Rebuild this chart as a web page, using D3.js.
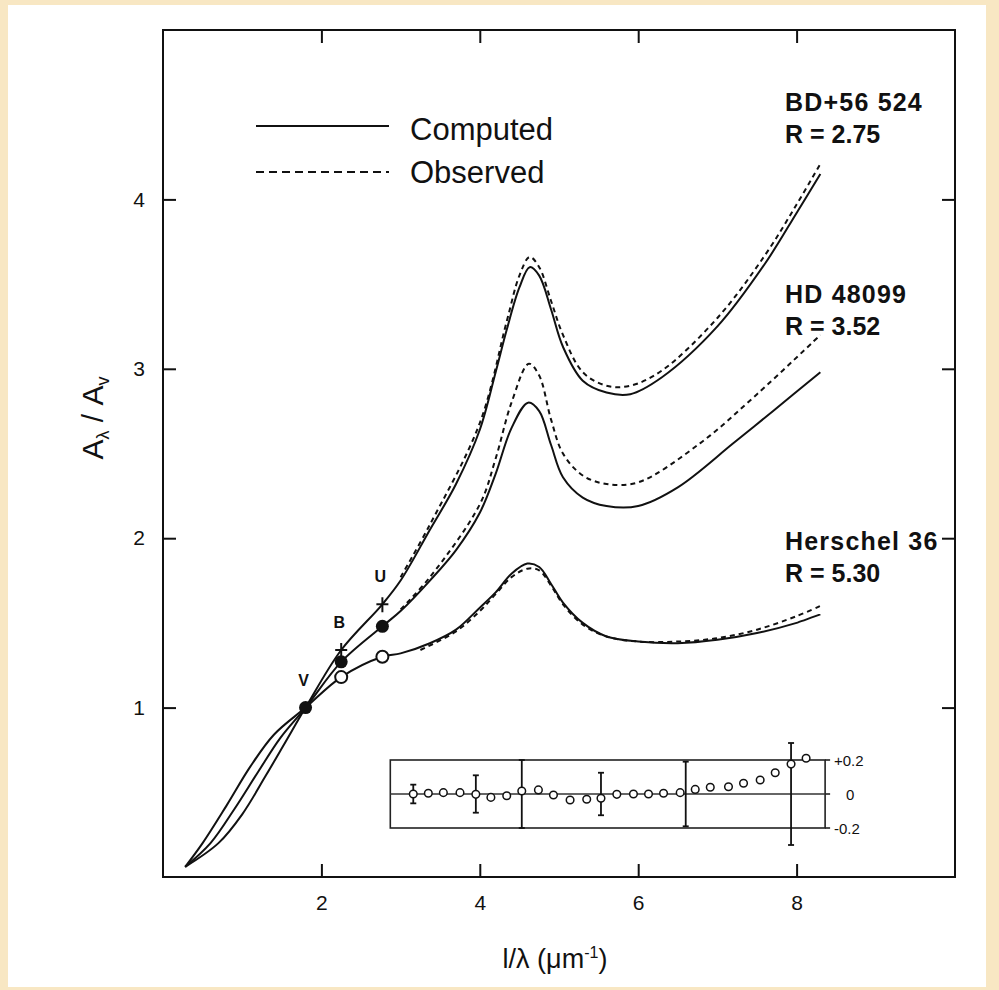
<!DOCTYPE html>
<html>
<head>
<meta charset="utf-8">
<script src="https://cdn.jsdelivr.net/npm/d3@7"></script>
<style>
body { margin: 0; background: #f8e7c3; }
svg text { font-family: "Liberation Sans", Arial, sans-serif; fill: #111; }
</style>
</head>
<body>
<svg id="chart" width="999" height="990"></svg>
<script>
// extinction curves A(lambda)/A(V) vs 1/lambda

// BD+56 524, R = 2.75
var bdComputed = [[0.28,0.06],[0.7,0.20],[1.0,0.37],[1.3,0.60],[1.55,0.80],[1.80,1.0],[2.25,1.34],[2.77,1.61],[3.0,1.75],[3.37,2.05],[3.7,2.32],[4.0,2.64],[4.2,2.98],[4.34,3.23],[4.5,3.48],[4.63,3.60],[4.75,3.55],[4.9,3.35],[5.05,3.13],[5.3,2.93],[5.6,2.86],[5.9,2.85],[6.3,2.95],[7.0,3.25],[7.6,3.62],[8.0,3.92],[8.3,4.15]]
var bdObserved = [[3.0,1.77],[3.37,2.08],[4.0,2.68],[4.34,3.28],[4.5,3.55],[4.63,3.66],[4.75,3.60],[4.9,3.40],[5.05,3.20],[5.3,2.98],[5.6,2.90],[5.9,2.90],[6.3,2.99],[7.0,3.30],[7.6,3.67],[8.0,3.97],[8.3,4.21]]

// HD 48099, R = 3.52
var hdComputed = [[0.28,0.06],[0.6,0.20],[0.9,0.40],[1.2,0.62],[1.48,0.82],[1.80,1.0],[2.25,1.27],[2.77,1.48],[3.0,1.57],[3.37,1.75],[3.7,1.93],[4.0,2.15],[4.2,2.38],[4.4,2.65],[4.61,2.80],[4.75,2.75],[4.9,2.55],[5.05,2.36],[5.3,2.24],[5.6,2.19],[6.0,2.19],[6.5,2.30],[7.2,2.56],[7.7,2.75],[8.3,2.98]]
var hdObserved = [[3.0,1.58],[3.37,1.77],[4.0,2.20],[4.2,2.47],[4.4,2.80],[4.62,3.03],[4.75,2.96],[4.9,2.70],[5.05,2.50],[5.3,2.37],[5.6,2.32],[6.0,2.33],[6.78,2.56],[7.5,2.85],[8.3,3.20]]

// Herschel 36, R = 5.30
var herComputed = [[0.28,0.06],[0.5,0.20],[0.8,0.42],[1.1,0.65],[1.4,0.84],[1.80,1.0],[2.25,1.18],[2.77,1.30],[3.0,1.32],[3.37,1.38],[3.7,1.46],[4.0,1.59],[4.2,1.68],[4.4,1.79],[4.6,1.85],[4.75,1.83],[4.9,1.73],[5.05,1.62],[5.3,1.50],[5.6,1.42],[6.0,1.39],[6.5,1.38],[7.0,1.40],[7.5,1.44],[8.0,1.50],[8.3,1.55]]
var herObserved = [[3.25,1.34],[3.7,1.45],[4.0,1.57],[4.2,1.67],[4.4,1.77],[4.6,1.82],[4.75,1.81],[4.9,1.72],[5.05,1.61],[5.3,1.49],[5.6,1.42],[6.0,1.39],[6.5,1.39],[7.0,1.41],[7.5,1.46],[8.0,1.54],[8.3,1.60]]

// photometric points V, B, U
var bandNames = ['V', 'B', 'U']
var bandX = [1.80, 2.25, 2.77]
var bdBand = [1.0, 1.34, 1.61]
var hdBand = [1.0, 1.27, 1.48]
var herBand = [1.0, 1.18, 1.30]

var starNames = ['BD+56 524', 'HD 48099', 'Herschel 36']
var starR = ['R = 2.75', 'R = 3.52', 'R = 5.30']

// inset: residuals
var residX = [3.16,3.35,3.54,3.75,3.95,4.14,4.34,4.53,4.74,4.93,5.14,5.35,5.53,5.73,5.94,6.13,6.32,6.53,6.72,6.91,7.14,7.33,7.54,7.73,7.93,8.12]
var residY = [0.0,0.004,0.008,0.008,-0.002,-0.02,-0.01,0.018,0.024,-0.006,-0.035,-0.031,-0.025,-0.002,0.0,0.0,0.004,0.008,0.027,0.04,0.043,0.063,0.082,0.125,0.176,0.21]
var errX = [3.16, 3.95, 4.53, 5.53, 6.6, 7.93]
var errHalf = [0.055, 0.11, 0.2, 0.125, 0.19, 0.30]
var insetTicks = [0.2, 0, -0.2]
var insetTickLabels = ['+0.2', '0', '-0.2']

var xTicks = [2, 4, 6, 8]
var yTicks = [1, 2, 3, 4]

var svg = d3.select('#chart')

// paper
svg.append('rect').attr('x', 8).attr('y', 5).attr('width', 978).attr('height', 982).attr('fill', '#fff')

var x = d3.scaleLinear().domain([0, 10]).range([163, 955])
var y = d3.scaleLinear().domain([0, 5]).range([877, 30])

var line = d3.line()
	.x(function(d) { return x(d[0]) })
	.y(function(d) { return y(d[1]) })
	.curve(d3.curveCatmullRom.alpha(0.5))

// axes, ticks pointing inward
function styleAxis(g, size) {
	g.select('.domain').remove()
	g.selectAll('line').attr('stroke', '#111').attr('stroke-width', 2)
	g.selectAll('text').style('font-size', size + 'px')
}
var fmt = d3.format('d')
svg.append('g').attr('transform', 'translate(0,' + y(0) + ')')
	.call(d3.axisBottom(x).tickValues(xTicks).tickFormat(fmt).tickSizeInner(-13).tickSizeOuter(0).tickPadding(18))
	.call(styleAxis, 21)
svg.append('g').attr('transform', 'translate(0,' + y(5) + ')')
	.call(d3.axisTop(x).tickValues(xTicks).tickSizeInner(-13).tickSizeOuter(0).tickFormat(''))
	.call(styleAxis, 21)
svg.append('g').attr('transform', 'translate(' + x(0) + ',0)')
	.call(d3.axisLeft(y).tickValues(yTicks).tickFormat(fmt).tickSizeInner(-13).tickSizeOuter(0).tickPadding(18))
	.call(styleAxis, 21)
svg.append('g').attr('transform', 'translate(' + x(10) + ',0)')
	.call(d3.axisRight(y).tickValues(yTicks).tickSizeInner(-13).tickSizeOuter(0).tickFormat(''))
	.call(styleAxis, 21)

svg.append('rect')
	.attr('x', x(0)).attr('y', y(5))
	.attr('width', x(10) - x(0)).attr('height', y(0) - y(5))
	.attr('fill', 'none').attr('stroke', '#111').attr('stroke-width', 2)

// axis titles
svg.append('text')
	.attr('x', 555).attr('y', 968)
	.attr('text-anchor', 'middle')
	.style('font-size', '27px')
	.html('l/λ (μm<tspan dy="-10" style="font-size:16px">-1</tspan><tspan dy="10">)</tspan>')

svg.append('text')
	.attr('transform', 'translate(103,418) rotate(-90)')
	.attr('text-anchor', 'middle')
	.style('font-size', '30px')
	.html('A<tspan dy="6" style="font-size:18px">λ</tspan><tspan dy="-6"> / A</tspan><tspan dy="6" style="font-size:18px">v</tspan>')

// curves
var curves = [
	{data: bdComputed, dash: null},
	{data: bdObserved, dash: '5,4'},
	{data: hdComputed, dash: null},
	{data: hdObserved, dash: '5,4'},
	{data: herComputed, dash: null},
	{data: herObserved, dash: '5,4'}
]
svg.append('g').selectAll('path')
	.data(curves)
	.enter().append('path')
		.attr('d', function(d) { return line(d.data) })
		.attr('fill', 'none')
		.attr('stroke', '#111')
		.attr('stroke-width', 2)
		.attr('stroke-dasharray', function(d) { return d.dash })

// star labels
var labelTop = [4.52, 3.39, 1.93]
starNames.forEach(function(name, i) {
	svg.append('text')
		.attr('x', 785).attr('y', y(labelTop[i]))
		.style('font-size', '25px').style('font-weight', 'bold').style('letter-spacing', '1.2px')
		.text(name)
	svg.append('text')
		.attr('x', 785).attr('y', y(labelTop[i]) + 32)
		.style('font-size', '25px').style('font-weight', 'bold')
		.text(starR[i])
})

// V B U points
var marks = svg.append('g')
bandX.forEach(function(bx, i) {
	if (i == 0) {
		marks.append('circle').attr('cx', x(bx)).attr('cy', y(bdBand[i])).attr('r', 6.5).attr('fill', '#111')
	} else {
		// BD+56 524: cross
		marks.append('line').attr('x1', x(bx)).attr('x2', x(bx))
			.attr('y1', y(bdBand[i]) - 7).attr('y2', y(bdBand[i]) + 8)
			.attr('stroke', '#111').attr('stroke-width', 2)
		marks.append('line').attr('x1', x(bx) - 6).attr('x2', x(bx) + 6)
			.attr('y1', y(bdBand[i])).attr('y2', y(bdBand[i]))
			.attr('stroke', '#111').attr('stroke-width', 2)
		// HD 48099: filled
		marks.append('circle').attr('cx', x(bx)).attr('cy', y(hdBand[i])).attr('r', 6.5).attr('fill', '#111')
		// Herschel 36: open
		marks.append('circle').attr('cx', x(bx)).attr('cy', y(herBand[i])).attr('r', 6)
			.attr('fill', '#fff').attr('stroke', '#111').attr('stroke-width', 2)
	}
	marks.append('text')
		.attr('x', x(bx) - 2).attr('y', y(bdBand[i]) - 22)
		.attr('text-anchor', 'middle')
		.style('font-size', '16px').style('font-weight', 'bold')
		.text(bandNames[i])
})

// legend
var legend = svg.append('g')
legend.append('line').attr('x1', 256).attr('x2', 389).attr('y1', 126).attr('y2', 126)
	.attr('stroke', '#111').attr('stroke-width', 2)
legend.append('line').attr('x1', 256).attr('x2', 389).attr('y1', 172).attr('y2', 172)
	.attr('stroke', '#111').attr('stroke-width', 2).attr('stroke-dasharray', '8,5')
legend.append('text').attr('x', 410).attr('y', 140).style('font-size', '31px').text('Computed')
legend.append('text').attr('x', 410).attr('y', 183).style('font-size', '31px').text('Observed')

// inset with residuals
var yi = d3.scaleLinear().domain([-0.2, 0.2]).range([828, 760])
var inset = svg.append('g')
inset.append('rect')
	.attr('x', x(2.87)).attr('y', yi(0.2))
	.attr('width', x(8.36) - x(2.87)).attr('height', yi(-0.2) - yi(0.2))
	.attr('fill', 'none').attr('stroke', '#222').attr('stroke-width', 1.6)
inset.append('line')
	.attr('x1', x(2.87)).attr('x2', x(8.36)).attr('y1', yi(0)).attr('y2', yi(0))
	.attr('stroke', '#333').attr('stroke-width', 1.6)
insetTicks.forEach(function(t, i) {
	inset.append('line').attr('x1', x(8.36)).attr('x2', x(8.36) + 5).attr('y1', yi(t)).attr('y2', yi(t))
		.attr('stroke', '#222').attr('stroke-width', 1.6)
	inset.append('text')
		.attr('x', t == 0 ? 846 : 834).attr('y', yi(t) + 6)
		.style('font-size', '15px')
		.text(insetTickLabels[i])
})
errX.forEach(function(ex, i) {
	var h = errHalf[i]
	inset.append('line').attr('x1', x(ex)).attr('x2', x(ex)).attr('y1', yi(h)).attr('y2', yi(-h))
		.attr('stroke', '#111').attr('stroke-width', 1.8)
	;[h, -h].forEach(function(c) {
		inset.append('line').attr('x1', x(ex) - 3).attr('x2', x(ex) + 3).attr('y1', yi(c)).attr('y2', yi(c))
			.attr('stroke', '#111').attr('stroke-width', 1.8)
	})
})
inset.selectAll('circle.res')
	.data(residX)
	.enter().append('circle')
		.attr('class', 'res')
		.attr('cx', function(d) { return x(d) })
		.attr('cy', function(d, i) { return yi(residY[i]) })
		.attr('r', 3.8)
		.attr('fill', '#fff')
		.attr('stroke', '#111')
		.attr('stroke-width', 1.5)
</script>
</body>
</html>
